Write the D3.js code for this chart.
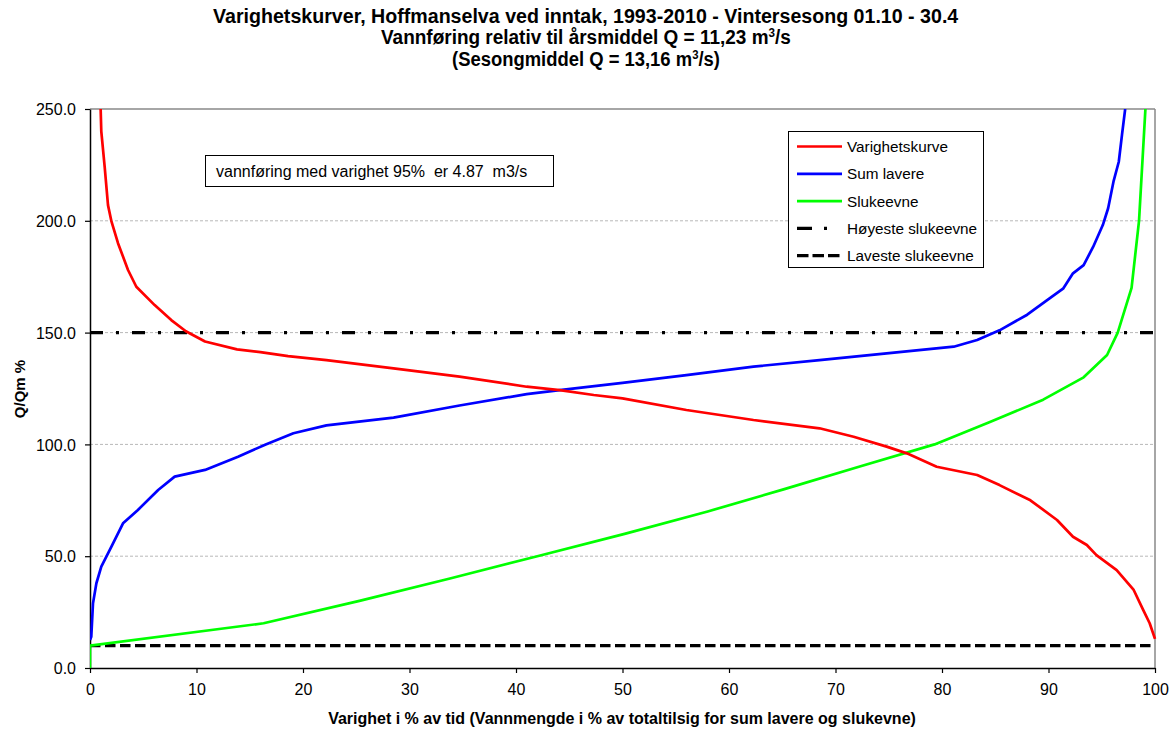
<!DOCTYPE html>
<html>
<head>
<meta charset="utf-8">
<script src="https://cdn.jsdelivr.net/npm/d3@7"></script>
<style>
  html, body { margin: 0; padding: 0; background: #fff; }
  svg { display: block; font-family: "Liberation Sans", Arial, sans-serif; }
</style>
</head>
<body>
<svg id="chart" width="1172" height="733"></svg>
<script>
// Duration curve (Varighetskurve): % of time vs Q/Qm %
const durX = [1.0, 1.06, 1.38, 1.69, 2.0, 2.63, 3.57, 4.35, 6.07, 7.63, 9.0, 10.8, 13.8, 16, 18.6, 22.2, 28.5, 34.7, 41, 44.1, 47.3, 50, 56, 62.3, 68.5, 71.7, 74.8, 76.7, 79.5, 83.3, 85.4, 88.3, 90.8, 92.3, 93.6, 94.5, 96.4, 98, 98.9, 99.5, 100];
const durQ = [250, 240, 224, 207, 200, 190, 178, 170.5, 162.3, 155.6, 150.6, 146, 142.5, 141.3, 139.5, 137.7, 134, 130.3, 125.8, 124.3, 122.1, 120.6, 115.4, 110.9, 107.2, 103.4, 99, 96, 90, 86.3, 81.8, 75, 66.2, 58.7, 55, 50.5, 43.8, 34.9, 25.9, 20, 13];

// Sum lavere: volume share below a given flow
const sumX = [0, 0.12, 0.28, 0.6, 1.06, 2.0, 3.1, 4.5, 6.4, 7.95, 10.8, 13.9, 16.5, 19.1, 22.2, 28.5, 34.7, 41, 44.1, 50, 56, 62.3, 68.5, 74.8, 81.1, 83.3, 85.4, 88, 90.1, 91.4, 92.3, 93.3, 94.2, 95.1, 95.6, 96.1, 96.6, 96.9, 97.2];
const sumQ = [12.5, 14, 28.9, 37.9, 45.3, 54.2, 64.7, 70.7, 79.6, 85.6, 88.6, 94.5, 100, 105, 108.5, 112, 117.4, 122.5, 124.3, 127.5, 131, 134.8, 137.7, 140.7, 143.7, 146.7, 151, 158, 165.3, 169.8, 176.5, 180.2, 188.4, 198.1, 205.6, 217.5, 226.4, 238.4, 250];

// Slukeevne: usable volume share vs turbine capacity
const slukX = [0, 0, 16.3, 25.3, 33.8, 42.0, 50.2, 58.0, 65.2, 72.2, 79.3, 84.5, 89.5, 93.3, 95.5, 96.5, 97.8, 98.5, 99.1];
const slukQ = [0, 10, 20, 30, 40, 50, 60, 70, 80, 90, 100, 110, 120, 130, 140, 150, 170, 200, 250];

// Highest and lowest turbine capacity
const hoyesteSlukeevne = 150;
const lavesteSlukeevne = 10;

const xTicks = [0, 10, 20, 30, 40, 50, 60, 70, 80, 90, 100];
const yTicks = [0, 50, 100, 150, 200, 250];

const legendNames = ["Varighetskurve", "Sum lavere", "Slukeevne", "Høyeste slukeevne", "Laveste slukeevne"];
const annotation = "vannføring med varighet 95%  er 4.87  m3/s";

const svg = d3.select("#chart");
const M = { left: 90, right: 1155, top: 109, bottom: 668 };

const x = d3.scaleLinear().domain([0, 100]).range([M.left, M.right]);
const y = d3.scaleLinear().domain([0, 250]).range([M.bottom, M.top]);

// Title: three centred lines, each fitted to its own width
const cx = 586;
const title = svg.append("g").attr("font-weight", "bold").attr("font-size", 19.5);
function titleLine(baseline, width, parts) {
  const g = title.append("g");
  const t = g.append("text").attr("x", 0).attr("y", 0);
  parts.forEach(p => {
    const ts = t.append("tspan").text(p.s);
    if (p.sup) ts.attr("font-size", 12).attr("dy", -7);
    if (p.down) ts.attr("dy", 7);
  });
  const w = t.node().getComputedTextLength();
  const k = width / w;
  g.attr("transform", `translate(${cx - width / 2},${baseline}) scale(${k},1)`);
}
titleLine(23, 746, [{ s: "Varighetskurver, Hoffmanselva ved inntak, 1993-2010 - Vintersesong 01.10 - 30.4" }]);
titleLine(44, 410, [{ s: "Vannføring relativ  til årsmiddel Q = 11,23 m" }, { s: "3", sup: true }, { s: "/s", down: true }]);
titleLine(66, 268, [{ s: "(Sesongmiddel Q = 13,16 m" }, { s: "3", sup: true }, { s: "/s)", down: true }]);

// Grid lines
svg.append("g").selectAll("line").data(yTicks.filter(d => d > 0 && d < 250)).join("line")
  .attr("x1", M.left).attr("x2", M.right)
  .attr("y1", d => y(d)).attr("y2", d => y(d))
  .attr("stroke", "#b8b8b8").attr("stroke-width", 1).attr("stroke-dasharray", "3,2");

// Plot frame (top and right in grey)
svg.append("line").attr("x1", M.left).attr("x2", M.right).attr("y1", y(250)).attr("y2", y(250))
  .attr("stroke", "#888").attr("stroke-width", 1.5);
svg.append("line").attr("x1", M.right).attr("x2", M.right).attr("y1", M.top).attr("y2", M.bottom)
  .attr("stroke", "#888").attr("stroke-width", 1.5);

// Axes
const yAxis = svg.append("g").attr("transform", `translate(${M.left},0)`)
  .call(d3.axisLeft(y).tickValues(yTicks).tickFormat(d3.format(".1f")).tickSize(5).tickSizeOuter(0));
const xAxis = svg.append("g").attr("transform", `translate(0,${M.bottom})`)
  .call(d3.axisBottom(x).tickValues(xTicks).tickFormat(d3.format("d")).tickSize(5).tickSizeOuter(0));
[yAxis, xAxis].forEach(a => {
  a.select(".domain").attr("stroke", "#000").attr("stroke-width", 1.5);
  a.selectAll(".tick line").attr("stroke", "#000").attr("stroke-width", 1.2);
  a.selectAll(".tick text").attr("font-size", 16).attr("fill", "#000")
    .attr("font-family", "Liberation Sans, Arial, sans-serif");
});
yAxis.selectAll(".tick text").attr("x", -14).attr("dy", "0.35em");
xAxis.selectAll(".tick text").attr("y", 27).attr("dy", 0);

// Axis titles
svg.append("text").attr("x", 622).attr("y", 724).attr("text-anchor", "middle")
  .attr("font-weight", "bold").attr("font-size", 16)
  .text("Varighet i % av tid (Vannmengde i % av totaltilsig for sum lavere og slukevne)");
svg.append("text").attr("transform", "translate(25,389) rotate(-90)").attr("text-anchor", "middle")
  .attr("font-weight", "bold").attr("font-size", 15).text("Q/Qm %");

// Clip to plot area
svg.append("clipPath").attr("id", "plot").append("rect")
  .attr("x", M.left).attr("y", M.top).attr("width", M.right - M.left + 2).attr("height", M.bottom - M.top);
const plot = svg.append("g").attr("clip-path", "url(#plot)");

// Reference lines
plot.append("line").attr("x1", x(0)).attr("x2", x(100))
  .attr("y1", y(hoyesteSlukeevne)).attr("y2", y(hoyesteSlukeevne))
  .attr("stroke", "#000").attr("stroke-width", 3.2).attr("stroke-dasharray", "13,13,3,13");
plot.append("line").attr("x1", x(0)).attr("x2", x(100))
  .attr("y1", y(lavesteSlukeevne)).attr("y2", y(lavesteSlukeevne))
  .attr("stroke", "#000").attr("stroke-width", 3.2).attr("stroke-dasharray", "10.5,4.5");

const line = d3.line().x(d => x(d[0])).y(d => y(d[1]));
const series = [
  { xs: slukX, qs: slukQ, color: "#00ff00" },
  { xs: sumX, qs: sumQ, color: "#0000ff" },
  { xs: durX, qs: durQ, color: "#ff0000" }
];
series.forEach(s => {
  plot.append("path").datum(d3.zip(s.xs, s.qs)).attr("d", line)
    .attr("fill", "none").attr("stroke", s.color).attr("stroke-width", 2.7)
    .attr("stroke-linejoin", "round");
});

// Annotation box
const ann = svg.append("g");
ann.append("rect").attr("x", 205.5).attr("y", 155.5).attr("width", 348).attr("height", 31)
  .attr("fill", "#fff").attr("stroke", "#000").attr("stroke-width", 1);
ann.append("text").attr("x", 216).attr("y", 177).attr("font-size", 16)
  .style("white-space", "pre").text(annotation);

// Legend
const leg = svg.append("g");
leg.append("rect").attr("x", 788.5).attr("y", 131.5).attr("width", 195).attr("height", 136)
  .attr("fill", "#fff").attr("stroke", "#000").attr("stroke-width", 1);
const legStyles = [
  { color: "#ff0000", w: 2.7, dash: null },
  { color: "#0000ff", w: 2.7, dash: null },
  { color: "#00ff00", w: 2.7, dash: null },
  { color: "#000", w: 3.2, dash: "15,12,3,20" },
  { color: "#000", w: 3.2, dash: "11.5,4" }
];
legendNames.forEach((name, i) => {
  const yy = 146.5 + i * 27.3;
  leg.append("line").attr("x1", 797).attr("x2", 842).attr("y1", yy).attr("y2", yy)
    .attr("stroke", legStyles[i].color).attr("stroke-width", legStyles[i].w)
    .attr("stroke-dasharray", legStyles[i].dash);
  leg.append("text").attr("x", 847).attr("y", yy + 5.5).attr("font-size", 15.3).text(name);
});
</script>
</body>
</html>
